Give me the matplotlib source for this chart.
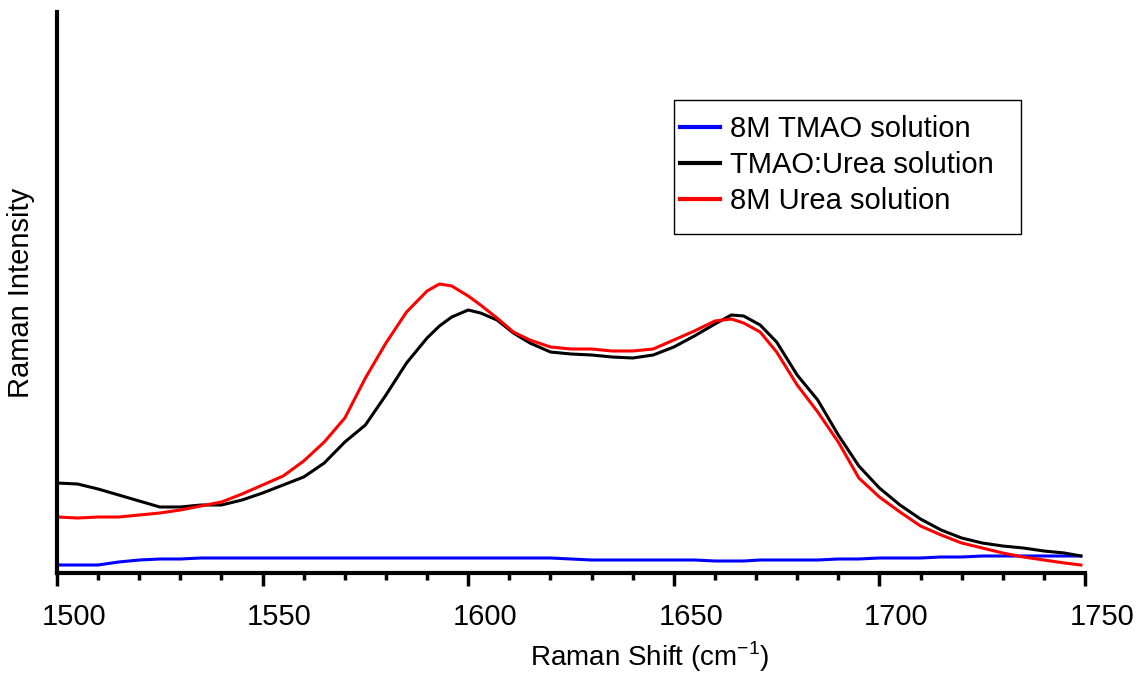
import matplotlib
matplotlib.use("Agg")
import matplotlib.pyplot as plt
from matplotlib.ticker import MultipleLocator
from matplotlib.patches import Rectangle
from matplotlib.transforms import ScaledTranslation

plt.rcParams['font.family'] = ['Liberation Sans', 'DejaVu Sans']

shift = [1500, 1505, 1510, 1515, 1520, 1525, 1530, 1535, 1540, 1545, 1550, 1555, 1560,
         1565, 1570, 1575, 1580, 1585, 1590, 1593, 1596, 1600, 1603, 1607, 1611, 1615,
         1620, 1625, 1630, 1635, 1640, 1645, 1650, 1655, 1660, 1664, 1667, 1671, 1675,
         1680, 1685, 1690, 1695, 1700, 1705, 1710, 1715, 1720, 1725, 1730, 1735, 1740,
         1745, 1749]

# curve heights (pixel rows, baseline row 573)
tmao_urea_px = [483, 484, 489, 495, 501, 507, 507, 505, 505, 500, 493, 485, 477,
                463, 442, 425, 395, 363, 338, 326, 317, 310, 313, 320, 333, 343,
                352, 354, 355, 357, 358, 355, 347, 336, 324, 315, 316, 325, 342,
                375, 400, 435, 466, 488, 505, 519, 530, 538, 543, 546, 548, 551,
                553, 556]

urea_px = [517, 518, 517, 517, 515, 513, 510, 506, 502, 494, 485, 476, 461,
           442, 418, 378, 343, 312, 291, 284, 286, 296, 305, 318, 332, 340,
           347, 349, 349, 351, 351, 349, 340, 331, 321, 319, 323, 332, 352,
           385, 412, 442, 478, 497, 512, 526, 535, 543, 548, 553, 557, 560,
           563, 565]

tmao_px = [565, 565, 565, 562, 560, 559, 559, 558, 558, 558, 558, 558, 558,
           558, 558, 558, 558, 558, 558, 558, 558, 558, 558, 558, 558, 558,
           558, 559, 560, 560, 560, 560, 560, 560, 561, 561, 561, 560, 560,
           560, 560, 559, 559, 558, 558, 558, 557, 557, 556, 556, 556, 556,
           556, 556]

labels = ['8M TMAO solution', 'TMAO:Urea solution', '8M Urea solution']
colors = ['#0000ff', 'black', '#ff0000']

tmao_urea = [573 - v for v in tmao_urea_px]
urea = [573 - v for v in urea_px]
tmao = [573 - v for v in tmao_px]

fig = plt.figure(figsize=(11.39, 6.75), dpi=100)
ax = fig.add_axes([57/1139, 1 - 573/675, (1085 - 57)/1139, (573 - 12)/675])

ax.plot(shift, tmao, color=colors[0], lw=2.2, label=labels[0])
ax.plot(shift, tmao_urea, color=colors[1], lw=2.2, label=labels[1])
ax.plot(shift, urea, color=colors[2], lw=2.2, label=labels[2])

ax.set_xlim(1500, 1750)
ax.set_ylim(0, 561)
ax.spines['top'].set_visible(False)
ax.spines['right'].set_visible(False)
for s in ('left', 'bottom'):
    ax.spines[s].set_linewidth(3)
ax.set_yticks([])
ax.xaxis.set_major_locator(MultipleLocator(50))
ax.xaxis.set_minor_locator(MultipleLocator(10))
ax.tick_params(axis='x', which='major', direction='out', length=9, width=2.5, labelsize=21, pad=12.5)
ax.tick_params(axis='x', which='minor', direction='out', length=5, width=2.5)

# tick labels sit slightly right of their ticks in the reference
offset = ScaledTranslation(17/100, 0, fig.dpi_scale_trans)
for lab in ax.get_xticklabels():
    lab.set_transform(lab.get_transform() + offset)

ax.set_xlabel('Raman Shift (cm$^{\\mathregular{-1}}$)', fontsize=20, labelpad=6.5)
ax.xaxis.label.set_x((650 - 57) / 1028)
ax.set_ylabel('Raman Intensity', fontsize=21, labelpad=16)

leg = ax.legend(loc='upper left', bbox_to_anchor=(674/1139, 1 - 109/675),
                bbox_transform=fig.transFigure, fontsize=21, frameon=False,
                handlelength=1.37, handletextpad=0.35, borderpad=0.2,
                labelspacing=0.285, borderaxespad=0)
for line in leg.get_lines():
    line.set_linewidth(3)
fig.patches.append(Rectangle((674/1139, 1 - 234/675), (1021 - 674)/1139, (234 - 100)/675,
                             transform=fig.transFigure, fill=False, edgecolor='black',
                             linewidth=1.0, figure=fig))

fig.savefig('out.png', dpi=100)
